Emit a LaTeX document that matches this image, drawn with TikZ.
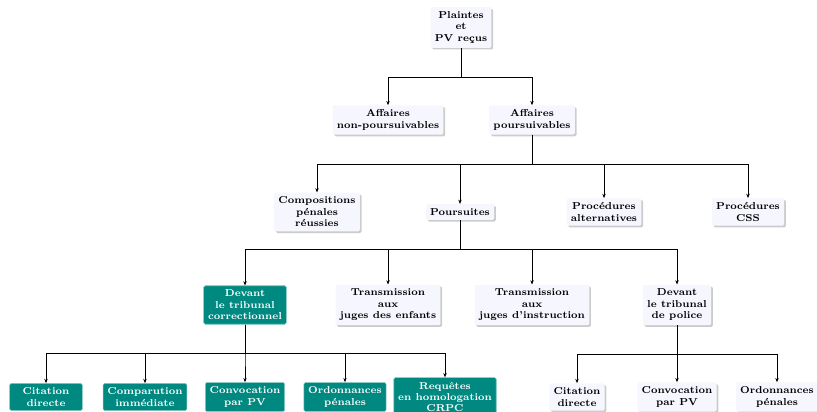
\documentclass[tikz,border=0pt]{standalone}
\usepackage{fontspec}
\usepackage{tikz}
\usetikzlibrary{arrows.meta,positioning,shadows}
\definecolor{paleblue}{RGB}{246,246,254}
\definecolor{tribteal}{RGB}{0,137,128}

\begin{document}
\begin{tikzpicture}[x=0.245cm,y=0.245cm,>=Stealth, every node/.style={font=\scriptsize\bfseries,align=center}]
    \tikzset{caseb/.style={fill=paleblue,rounded corners=1pt,inner sep=3pt,drop shadow={shadow xshift=1.2pt,shadow yshift=-1.2pt,fill=black!40}}}
    \tikzset{court/.style={fill=tribteal,draw=tribteal!45,text=white,rounded corners=1pt,inner sep=3pt,minimum width=1.78cm}}
    \tikzset{link/.style={-{Stealth[length=3pt,width=2.4pt]},black,thin}}

    \useasboundingbox (0,0) rectangle (81.7,41.1);

    % Top: complaints
    \node[caseb] (plaintes) at (46.1,38.35) {Plaintes\\et\\PV reçus};

    % Affaires
    \node[caseb] (nonpours) at (38.8,29.1) {Affaires\\non-poursuivables};
    \node[caseb] (pours) at (53.2,29.1) {Affaires\\poursuivables};

    % Outcomes of poursuivables
    \node[caseb] (compo) at (31.7,19.9) {Compositions\\pénales\\réussies};
    \node[caseb] (poursuites) at (46.0,19.9) {Poursuites};
    \node[caseb] (procalt) at (60.4,19.9) {Procédures\\alternatives};
    \node[caseb] (proccss) at (74.8,19.9) {Procédures\\CSS};

    % Poursuites
    \node[court] (correc) at (24.5,10.6) {Devant\\le tribunal\\correctionnel};
    \node[caseb] (transenf) at (38.8,10.6) {Transmission\\aux\\juges des enfants};
    \node[caseb] (transinst) at (53.2,10.6) {Transmission\\aux\\juges d'instruction};
    \node[caseb] (police) at (67.7,10.6) {Devant\\le tribunal\\de police};

    % Tribunal correctionnel (teal)
    \node[court] (citcor) at (4.6,1.4) {Citation\\directe};
    \node[court] (compar) at (14.5,1.4) {Comparution\\immédiate};
    \node[court] (convcor) at (24.5,1.4) {Convocation\\par PV};
    \node[court] (ordcor) at (34.5,1.4) {Ordonnances\\pénales};
    \node[court] (crpc) at (44.5,1.4) {Requêtes\\en homologation\\CRPC};

    % Tribunal de police
    \node[caseb] (citpol) at (57.7,1.4) {Citation\\directe};
    \node[caseb] (convpol) at (67.7,1.4) {Convocation\\par PV};
    \node[caseb] (ordpol) at (77.7,1.4) {Ordonnances\\pénales};

    % Connectors
    \foreach \p/\c in {plaintes/nonpours,plaintes/pours,
        pours/compo,pours/poursuites,pours/procalt,pours/proccss,
        poursuites/correc,poursuites/transenf,poursuites/transinst,poursuites/police,
        correc/citcor,correc/compar,correc/convcor,correc/ordcor,correc/crpc,
        police/citpol,police/convpol,police/ordpol}
        \draw[link] (\p.south) -- ++(0,-2.9) -| (\c.north);
\end{tikzpicture}
\end{document}
